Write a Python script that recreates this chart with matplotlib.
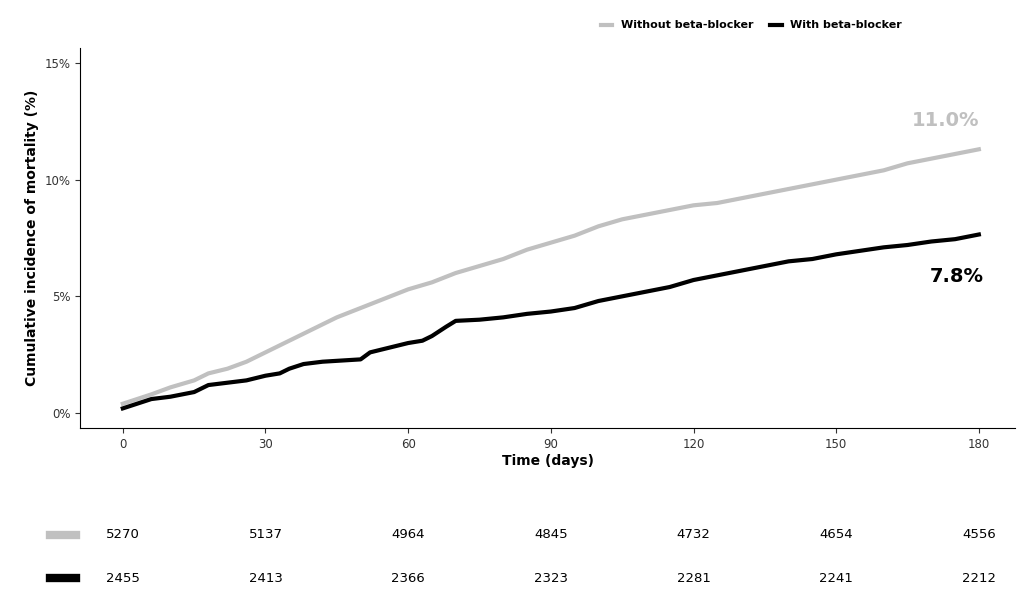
import numpy as np
import matplotlib.pyplot as plt
import matplotlib.transforms as mtransforms

# follow-up days and cumulative incidence (%)
days_wo = [0, 3, 6, 10, 15, 18, 22, 26, 30, 35, 40, 45, 50, 55, 60, 65, 70, 75, 80, 85, 90, 95, 100,
           105, 110, 115, 120, 125, 130, 135, 140, 145, 150, 155, 160, 165, 170, 175, 180]
inc_wo = [0.4, 0.6, 0.8, 1.1, 1.4, 1.7, 1.9, 2.2, 2.6, 3.1, 3.6, 4.1, 4.5, 4.9, 5.3, 5.6, 6.0, 6.3, 6.6,
          7.0, 7.3, 7.6, 8.0, 8.3, 8.5, 8.7, 8.9, 9.0, 9.2, 9.4, 9.6, 9.8, 10.0, 10.2, 10.4, 10.7, 10.9,
          11.1, 11.3]
days_w = [0, 3, 6, 10, 15, 18, 22, 26, 30, 33, 35, 38, 42, 46, 50, 52, 56, 60, 63, 65, 68, 70, 75, 80,
          85, 90, 95, 100, 105, 110, 115, 120, 125, 130, 135, 140, 145, 150, 155, 160, 165, 170, 175, 180]
inc_w = [0.2, 0.4, 0.6, 0.7, 0.9, 1.2, 1.3, 1.4, 1.6, 1.7, 1.9, 2.1, 2.2, 2.25, 2.3, 2.6, 2.8, 3.0,
         3.1, 3.3, 3.7, 3.95, 4.0, 4.1, 4.25, 4.35, 4.5, 4.8, 5.0, 5.2, 5.4, 5.7, 5.9, 6.1, 6.3, 6.5,
         6.6, 6.8, 6.95, 7.1, 7.2, 7.35, 7.45, 7.65]

risk_times = [0, 30, 60, 90, 120, 150, 180]
at_risk_wo = [5270, 5137, 4964, 4845, 4732, 4654, 4556]
at_risk_w = [2455, 2413, 2366, 2323, 2281, 2241, 2212]

GRAY = '#c0c0c0'
BLACK = '#000000'

fig = plt.figure(figsize=(10.24, 5.92), dpi=100)
ax = fig.add_axes([80/1024, 1-428/592, 935/1024, 380/592])
ax.plot(days_wo, inc_wo, color=GRAY, lw=3, label='Without beta-blocker')
ax.plot(days_w, inc_w, color=BLACK, lw=3, label='With beta-blocker')
ax.set_xlim(-9, 187.6)
ax.set_ylim(-0.64, 15.64)
ax.set_xticks(risk_times)
ax.set_yticks([0, 5, 10, 15])
ax.set_yticklabels(['0%', '5%', '10%', '15%'])
ax.tick_params(labelsize=8.5, colors='#333333')
for s in ['top', 'right']:
    ax.spines[s].set_visible(False)
ax.set_xlabel('Time (days)', fontsize=10, fontweight='bold', labelpad=2)
ax.set_ylabel('Cumulative incidence of mortality (%)', fontsize=10, fontweight='bold')
ax.text(180, 12.3, '11.0%', color=GRAY, fontsize=14, fontweight='bold', ha='right')
ax.text(181, 5.6, '7.8%', color=BLACK, fontsize=14, fontweight='bold', ha='right')
ax.legend(loc='lower right', bbox_to_anchor=(0.89, 1.02), ncol=2, frameon=False,
          handlelength=1.0, columnspacing=1.5, prop={'weight': 'bold', 'size': 8})

# number at risk table
trans = mtransforms.blended_transform_factory(ax.transData, fig.transFigure)
for row_y, vals, col in [(1-535/592, at_risk_wo, GRAY), (1-578/592, at_risk_w, BLACK)]:
    fig.add_artist(plt.Line2D([50/1024, 76/1024], [row_y, row_y], color=col, lw=6))
    for t, v in zip(risk_times, vals):
        fig.text(t, row_y, str(v), transform=trans, ha='center', va='center', fontsize=9.5)

fig.savefig('out.png')
